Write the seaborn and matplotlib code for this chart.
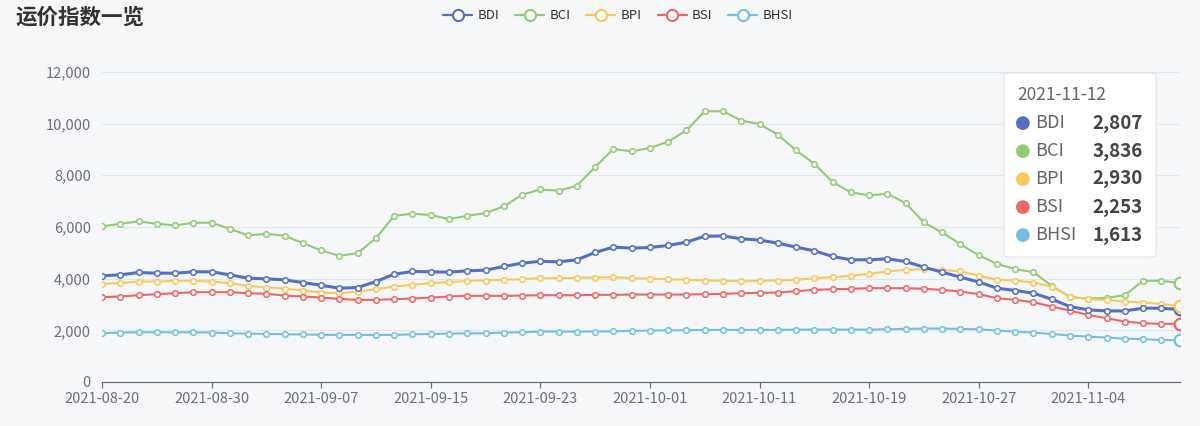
import pandas as pd
import matplotlib.pyplot as plt
import seaborn as sns
from matplotlib.lines import Line2D
from matplotlib.patches import FancyBboxPatch

# trading days shown on the category axis
dates = [
    '2021-08-20', '2021-08-23', '2021-08-24', '2021-08-25', '2021-08-26', '2021-08-27',
    '2021-08-30', '2021-08-31', '2021-09-01', '2021-09-02', '2021-09-03', '2021-09-06',
    '2021-09-07', '2021-09-08', '2021-09-09', '2021-09-10', '2021-09-13', '2021-09-14',
    '2021-09-15', '2021-09-16', '2021-09-17', '2021-09-20', '2021-09-21', '2021-09-22',
    '2021-09-23', '2021-09-24', '2021-09-27', '2021-09-28', '2021-09-29', '2021-09-30',
    '2021-10-01', '2021-10-04', '2021-10-05', '2021-10-06', '2021-10-07', '2021-10-08',
    '2021-10-11', '2021-10-12', '2021-10-13', '2021-10-14', '2021-10-15', '2021-10-18',
    '2021-10-19', '2021-10-20', '2021-10-21', '2021-10-22', '2021-10-25', '2021-10-26',
    '2021-10-27', '2021-10-28', '2021-10-29', '2021-11-01', '2021-11-02', '2021-11-03',
    '2021-11-04', '2021-11-05', '2021-11-08', '2021-11-09', '2021-11-10', '2021-11-12',
]

bdi = [4108, 4146, 4237, 4211, 4211, 4263, 4263, 4146, 4017, 3991, 3953, 3849,
       3740, 3630, 3655, 3888, 4172, 4276, 4263, 4250, 4301, 4327, 4469, 4598,
       4670, 4650, 4728, 5012, 5218, 5180, 5205, 5283, 5412, 5640, 5650, 5541,
       5490, 5373, 5218, 5076, 4857, 4728, 4728, 4766, 4663, 4443, 4250, 4056,
       3870, 3630, 3539, 3436, 3203, 2919, 2790, 2751, 2751, 2855, 2855, 2807]
bci = [6020, 6123, 6213, 6123, 6058, 6161, 6161, 5929, 5671, 5735, 5658, 5373,
       5089, 4883, 4986, 5567, 6433, 6510, 6459, 6303, 6433, 6536, 6794, 7246,
       7450, 7401, 7595, 8318, 9016, 8926, 9055, 9300, 9739, 10475, 10475, 10114,
       9980, 9571, 8964, 8448, 7737, 7337, 7221, 7285, 6923, 6174, 5787, 5335,
       4900, 4573, 4366, 4250, 3720, 3281, 3229, 3255, 3358, 3914, 3914, 3836]
bpi = [3798, 3823, 3888, 3888, 3914, 3914, 3888, 3823, 3720, 3655, 3617, 3539,
       3460, 3436, 3500, 3591, 3694, 3759, 3823, 3862, 3914, 3927, 3953, 3978,
       4017, 4017, 4030, 4043, 4056, 4017, 4004, 3978, 3953, 3927, 3914, 3901,
       3910, 3927, 3953, 4017, 4056, 4108, 4185, 4276, 4340, 4366, 4340, 4276,
       4120, 3953, 3927, 3849, 3694, 3307, 3203, 3178, 3113, 3074, 3023, 2930]
bsi = [3281, 3307, 3358, 3397, 3436, 3475, 3475, 3475, 3436, 3410, 3345, 3307,
       3268, 3216, 3178, 3178, 3203, 3229, 3268, 3307, 3333, 3333, 3333, 3345,
       3358, 3358, 3358, 3371, 3371, 3384, 3384, 3384, 3384, 3397, 3410, 3436,
       3450, 3462, 3513, 3565, 3591, 3604, 3630, 3630, 3630, 3604, 3565, 3500,
       3400, 3242, 3178, 3087, 2919, 2764, 2596, 2467, 2338, 2273, 2248, 2253]
bhsi = [1886, 1912, 1925, 1925, 1925, 1925, 1912, 1886, 1873, 1860, 1847, 1840,
        1825, 1821, 1821, 1821, 1821, 1847, 1860, 1873, 1886, 1886, 1912, 1925,
        1950, 1950, 1950, 1950, 1963, 1976, 1989, 2002, 2002, 2015, 2015, 2015,
        2015, 2015, 2028, 2028, 2028, 2028, 2028, 2041, 2054, 2067, 2067, 2054,
        2041, 1989, 1950, 1912, 1860, 1795, 1757, 1718, 1679, 1653, 1628, 1613]

series_names = ['BDI', 'BCI', 'BPI', 'BSI', 'BHSI']
colors = {'BDI': '#5470c6', 'BCI': '#91cc75', 'BPI': '#fac858',
          'BSI': '#ee6666', 'BHSI': '#73c0de'}
title = '运价指数一览'

wide = pd.DataFrame({'BDI': bdi, 'BCI': bci, 'BPI': bpi, 'BSI': bsi, 'BHSI': bhsi})
wide['idx'] = range(len(dates))
df = wide.melt(id_vars='idx', var_name='index', value_name='value')

sns.set_theme(style="white")
plt.rcParams['font.family'] = ['Noto Sans CJK SC', 'DejaVu Sans']

bg = '#f6f7f9'
fig = plt.figure(figsize=(12, 4.26), dpi=100, facecolor=bg)
ax = fig.add_axes([0.085, 0.1033, 0.898, 0.728], facecolor=bg)

# draw the lines, BDI a bit heavier like the reference
for name in series_names:
    sub = df[df['index'] == name]
    sns.lineplot(data=sub, x='idx', y='value', color=colors[name], ax=ax,
                 linewidth=2.2 if name == 'BDI' else 1.5,
                 marker='o', markersize=4, markerfacecolor='white',
                 markeredgecolor=colors[name], markeredgewidth=1.1,
                 zorder=3 if name == 'BDI' else 2)

# emphasised last point (hover state)
last = len(dates) - 1
ax.axvline(last, color='#c9ccd4', lw=0.8, ls=(0, (3, 3)), zorder=1)
for name in series_names:
    ax.scatter([last], [wide[name].iloc[-1]], s=70, facecolor='white',
               edgecolor=colors[name], linewidth=1.6, zorder=5)

ax.set_xlim(0, last)
ax.set_ylim(0, 12000)
ax.set_yticks(range(0, 12001, 2000))
ax.set_yticklabels([f'{v:,}' for v in range(0, 12001, 2000)])
tick_pos = list(range(0, last, 6))
ax.set_xticks(tick_pos)
ax.set_xticklabels([dates[i] for i in tick_pos])
ax.set_xlabel('')
ax.set_ylabel('')

ax.grid(axis='y', color='#e0e6f1', lw=0.8)
ax.set_axisbelow(True)
for s in ['top', 'right', 'left']:
    ax.spines[s].set_visible(False)
ax.spines['bottom'].set_color('#6e7079')
ax.spines['bottom'].set_linewidth(0.9)
ax.tick_params(axis='x', colors='#6e7079', labelcolor='#6e7079', labelsize=10.5,
               length=4, width=0.9, direction='out', bottom=True, pad=3)
ax.tick_params(axis='y', labelcolor='#6e7079', labelsize=10.5, length=0, pad=8)

fig.text(0.013, 0.959, title, fontsize=15.5, fontweight='bold', color='#333333',
         va='center', ha='left')

handles = [Line2D([0], [0], color=colors[n], lw=1.6, marker='o', markersize=8,
                  markerfacecolor='white', markeredgewidth=1.5) for n in series_names]
fig.legend(handles, series_names, loc='center', bbox_to_anchor=(0.515, 0.963),
           ncol=5, frameon=False, fontsize=9.5, handlelength=2.2,
           columnspacing=1.2, handletextpad=0.4, labelcolor='#333333')

# tooltip box for the last day
box = FancyBboxPatch((0.8367, 0.3967), 0.1267, 0.432, transform=fig.transFigure,
                     boxstyle='round,pad=0,rounding_size=0.006', facecolor='white',
                     edgecolor='#e6e6e6', lw=0.8, zorder=10)
fig.patches.append(box)
fig.text(0.8475, 0.777, dates[-1], fontsize=12.5, color='#666666', va='center',
         zorder=11)
row_y = [0.711, 0.645, 0.580, 0.514, 0.448]
for n, y in zip(series_names, row_y):
    fig.text(0.8525, y, '\u25cf', fontsize=13, color=colors[n], va='center',
             ha='center', zorder=11, family='DejaVu Sans')
    fig.text(0.8625, y, n, fontsize=13, color='#666666', va='center', zorder=11)
    fig.text(0.9525, y, f'{wide[n].iloc[-1]:,}', fontsize=13.5, color='#444444',
             fontweight='bold', va='center', ha='right', zorder=11)

fig.savefig('out.png', dpi=100, facecolor=bg)
